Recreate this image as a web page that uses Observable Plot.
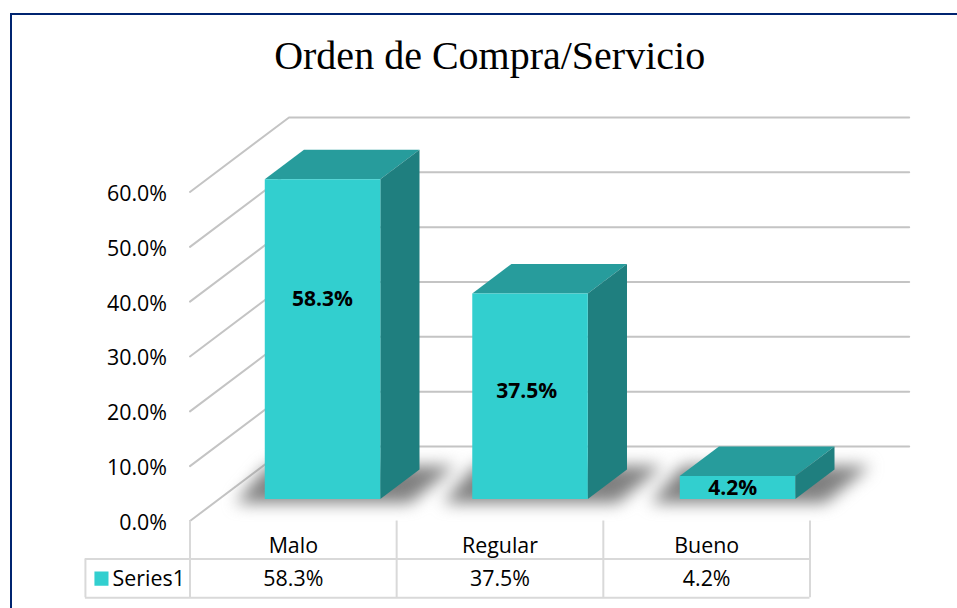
<!DOCTYPE html>
<html>
<head>
<meta charset="utf-8">
<script src="https://cdn.jsdelivr.net/npm/d3@7"></script>
<script src="https://cdn.jsdelivr.net/npm/@observablehq/plot@0.6"></script>
<style>
html,body{margin:0;padding:0;background:#fff;overflow:hidden}
#wrap{position:relative;width:957px;height:608px}
#border{position:absolute;left:9.5px;top:12.5px;right:0;bottom:0;border-left:2px solid #002470;border-top:2px solid #002470}
#wrap svg{position:absolute;left:0;top:0}
</style>
</head>
<body>
<div id="wrap"><div id="border"></div></div>
<script>
const title = "Orden de Compra/Servicio";
const categories = ["Malo", "Regular", "Bueno"];
const values = [58.3, 37.5, 4.2];
const yTicks = [0, 10, 20, 30, 40, 50, 60];
const seriesName = "Series1";
const labelFraction = [0.626, 0.525, 0.48];
const labelShift = [0, -0.016, -0.023];

const font = "'Open Sans', sans-serif";
const pct = d => d.toFixed(1) + "%";

// Oblique projection expressed in data units of the two linear scales
const depthX = 0.479, depthY = 13.59;
const P = (x, v, d) => ({x: x + d * depthX, y: v + d * depthY});
const dFront = 0.295, dBack = 0.691, half = 0.2795;

function poly(rows) { return rows.flatMap((pts, k) => pts.map(p => ({...p, k}))); }

const walls = poly(yTicks.map(v => [P(0, v, 0), P(0, v, 1), {x: 3.48, y: v + depthY}]));
const bars = values.map((v, i) => {
  const c = i * 1.004 + 0.5, l = c - half, r = c + half;
  return {
    front: [P(l, 0, dFront), P(r, 0, dFront), P(r, v, dFront), P(l, v, dFront)],
    top: [P(l, v, dFront), P(r, v, dFront), P(r, v, dBack), P(l, v, dBack)],
    side: [P(r, 0, dFront), P(r, 0, dBack), P(r, v, dBack), P(r, v, dFront)],
    shadow: [P(l - 0.115, 0, 0.24), P(r + 0.17, 0, 0.24), P(r + 0.15, 0, 0.74), P(l - 0.2, 0, 0.74)],
    label: P(c + labelShift[i], v * labelFraction[i], dFront)
  };
});
const face = (key, fill, extra = {}) =>
  Plot.line(poly(bars.map(b => b[key])), {x: "x", y: "y", z: "k", fill, stroke: "none", ...extra});

// Table rows sit below the zero line, in y-scale units
const rowHead = -4.56, rowMid = -6.93, rowVal = -10.65, rowEnd = -14;
const tableX = [0, 1, 2, 3];
const tableColor = "#d9d9d9";
const legendLeft = -0.506;

const chart = Plot.plot({
  width: 957, height: 608,
  marginLeft: 189.5, marginRight: 147.5, marginTop: 191.5, marginBottom: 87.5,
  style: {background: "transparent", fontFamily: font},
  x: {domain: [0, 3], axis: null},
  y: {domain: [0, 60], axis: null},
  marks: [
    Plot.line(walls, {x: "x", y: "y", z: "k", stroke: "#c4c4c4", strokeWidth: 2}),
    face("shadow", "#808080", {imageFilter: "blur(8px)"}),
    face("top", "#279c9c"),
    face("side", "#1f7f7f"),
    face("front", "#32cfcf"),
    Plot.axisY(yTicks, {anchor: "left", tickSize: 0, tickPadding: 23, dy: 2, label: null, tickFormat: pct, fontSize: 21.4, fill: "#000", fontFamily: font}),
    Plot.text(bars.map((b, i) => ({...b.label, t: pct(values[i])})), {x: "x", y: "y", text: "t", fontSize: 21, fontWeight: 700, fill: "#000", fontFamily: font}),
    Plot.ruleX(tableX, {x: d => d, y1: 0, y2: rowEnd, stroke: tableColor, strokeWidth: 2}),
    Plot.ruleX([legendLeft], {x: d => d, y1: rowMid, y2: rowEnd, stroke: tableColor, strokeWidth: 2}),
    Plot.ruleY([rowMid, rowEnd], {y: d => d, x1: legendLeft, x2: 3, stroke: tableColor, strokeWidth: 2}),
    Plot.text(categories, {x: (d, i) => i + 0.5, y: rowHead, text: d => d, fontSize: 21.4, fill: "#000", fontFamily: font}),
    Plot.text(values, {x: (d, i) => i + 0.5, y: rowVal, text: pct, fontSize: 21.4, fill: "#000", fontFamily: font}),
    Plot.rect([seriesName], {x1: -0.46, x2: -0.392, y1: -9.3, y2: -11.9, fill: "#32cfcf"}),
    Plot.text([seriesName], {x: -0.3745, y: rowVal, text: d => d, textAnchor: "start", fontSize: 21.4, fill: "#000", fontFamily: font}),
    Plot.text([title], {x: 1.45, y: 84.8, text: d => d, fontSize: 40, fill: "#000", fontFamily: "'Liberation Serif', serif"})
  ]
});
document.getElementById("wrap").appendChild(chart);
</script>
</body>
</html>
